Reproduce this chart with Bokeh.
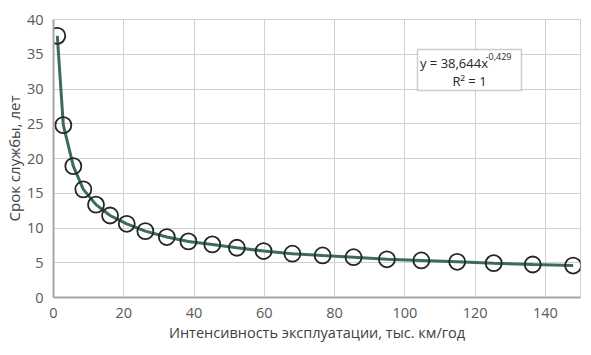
from bokeh.plotting import figure
from bokeh.models import Range1d, Label, BoxAnnotation, ColumnDataSource
from bokeh.embed import file_html
from bokeh.resources import INLINE

intensity = [1.08, 2.8, 5.64, 8.49, 12.1, 16.1, 20.85, 26.15, 32.25, 38.4, 45.2, 52.2,
             59.8, 68.0, 76.6, 85.4, 94.9, 104.7, 114.9, 125.3, 136.4, 147.9]
service_life = [37.65, 24.8, 18.9, 15.56, 13.36, 11.8, 10.6, 9.55, 8.7, 8.07, 7.64, 7.16,
                6.68, 6.3, 6.05, 5.8, 5.5, 5.33, 5.14, 4.94, 4.75, 4.6]
x_ticks = [0, 20, 40, 60, 80, 100, 120, 140]
y_ticks = [0, 5, 10, 15, 20, 25, 30, 35, 40]

FONT = "Open Sans"
src = ColumnDataSource(dict(x=intensity, y=service_life))

p = figure(width=591, height=355, output_backend="svg", toolbar_location=None,
           x_range=Range1d(0, 150), y_range=Range1d(0, 40),
           min_border_left=0, min_border_right=11, min_border_top=19, min_border_bottom=58)
p.background_fill_color = "white"
p.border_fill_color = "white"
p.outline_line_color = "#d0d0d0"

p.xaxis.ticker = x_ticks
p.yaxis.ticker = y_ticks
for ax in (p.xaxis[0], p.yaxis[0]):
    ax.major_tick_line_color = None
    ax.minor_tick_line_color = None
    ax.major_tick_out = 0
    ax.major_tick_in = 0
    ax.axis_line_color = "#a6a6a6"
    ax.axis_line_width = 2
    ax.major_label_text_font = FONT
    ax.major_label_text_font_size = "14.5px"
    ax.major_label_text_color = "#595959"
    ax.axis_label_text_font = FONT
    ax.axis_label_text_font_style = "normal"
    ax.axis_label_text_color = "#404040"
p.xaxis.axis_label = "Интенсивность эксплуатации, тыс. км/год"
p.yaxis.axis_label = "Срок службы, лет"
p.xaxis.axis_label_text_font_size = "14.5px"
p.yaxis.axis_label_text_font_size = "15px"
p.xaxis.major_label_standoff = 10
p.yaxis.major_label_standoff = 10
p.xaxis.axis_label_standoff = 2
p.yaxis.axis_label_standoff = 0

p.grid.grid_line_color = "#d0d0d0"
p.grid.grid_line_width = 1

p.line("x", "y", source=src, line_color="#3b6b5c", line_width=3)
p.scatter("x", "y", source=src, size=16, marker="circle", fill_color=None,
          line_color="#262626", line_width=1.8)

box = BoxAnnotation(left=103.6, right=133.2, bottom=29.8, top=35.7,
                    fill_color="white", fill_alpha=1, line_color="#595959", line_width=1.5)
p.add_layout(box)
p.add_layout(Label(x=104.3, y=33.75, text="y = 38,644x", text_font=FONT, text_font_size="13px",
                   text_color="#262626", text_baseline="middle", text_align="left"))
p.add_layout(Label(x=123.0, y=34.7, text="-0,429", text_font=FONT, text_font_size="9px",
                   text_color="#262626", text_baseline="middle", text_align="left"))
p.add_layout(Label(x=118.4, y=31.2, text="R² = 1", text_font=FONT, text_font_size="13px",
                   text_color="#262626", text_baseline="middle", text_align="center"))

open("out.html", "w").write(file_html(p, INLINE))
